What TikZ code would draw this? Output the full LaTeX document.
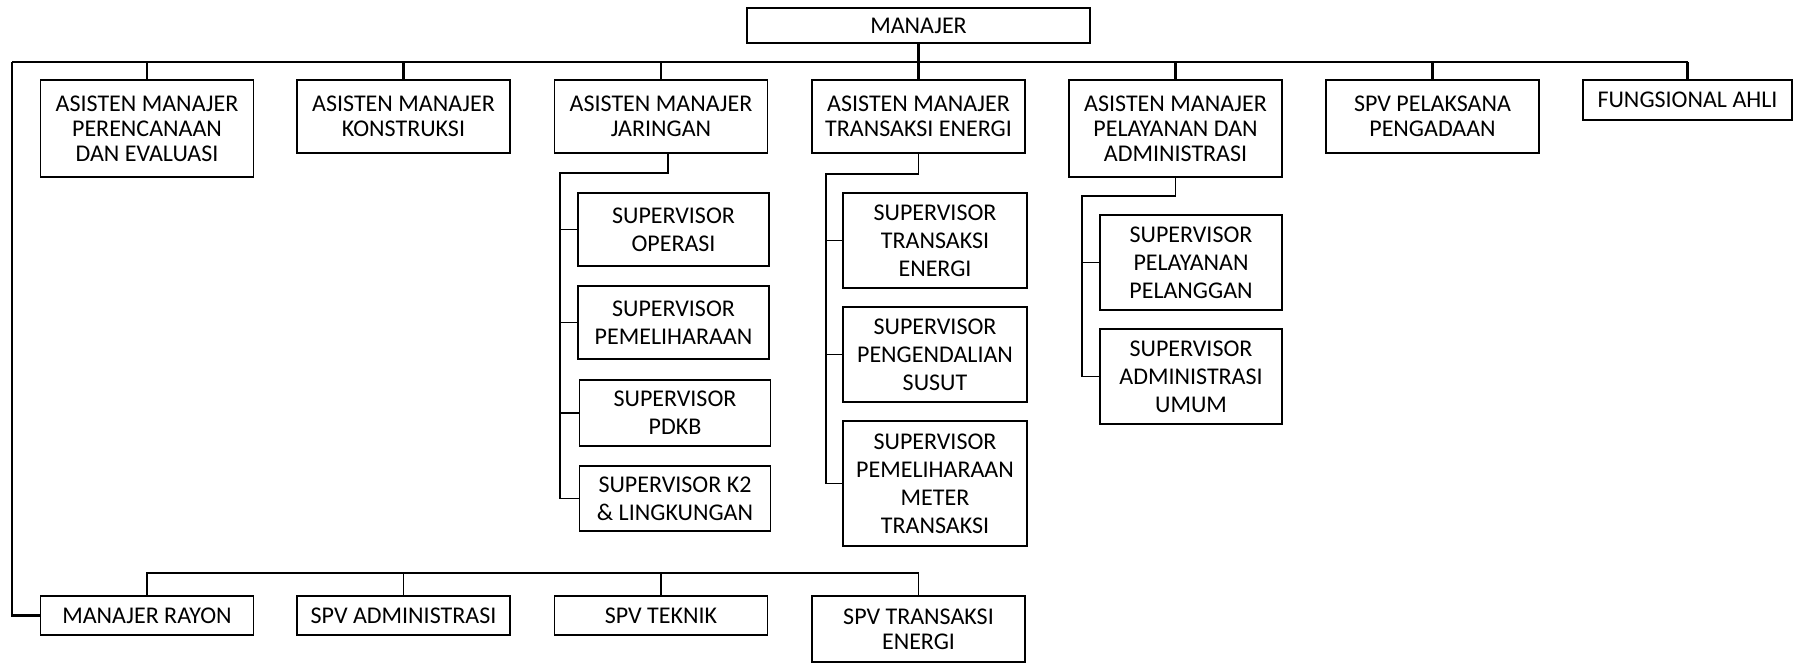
\documentclass[tikz,border=0pt]{standalone}
\usepackage{fontspec}
\setmainfont{Carlito}

\begin{document}
\begin{tikzpicture}[x=0.5pt, y=-0.5pt,
  topbox/.style={draw, line width=0.7pt, inner sep=0pt, align=center, minimum width=106.5pt, font=\fontsize{12}{12.5}\selectfont},
  subbox/.style={draw, line width=0.7pt, inner sep=0pt, align=center, font=\fontsize{12}{14}\selectfont},
  mainline/.style={line width=1.3pt},
  subline/.style={line width=0.7pt}]

\useasboundingbox (0,0) rectangle (1793,664);

\node[topbox, minimum width=171.5pt, minimum height=17.5pt] (man) at (918.5,25.5) {MANAJER};

\node[topbox, minimum height=48.5pt] (a1) at (147,128.5) {ASISTEN MANAJER\\PERENCANAAN\\DAN EVALUASI};
\node[topbox, minimum height=36.5pt] (a2) at (403.5,116.5) {ASISTEN MANAJER\\KONSTRUKSI};
\node[topbox, minimum height=36.5pt] (a3) at (661,116.5) {ASISTEN MANAJER\\JARINGAN};
\node[topbox, minimum height=36.5pt] (a4) at (918.5,116.5) {ASISTEN MANAJER\\TRANSAKSI ENERGI};
\node[topbox, minimum height=48.5pt] (a5) at (1175.5,128.5) {ASISTEN MANAJER\\PELAYANAN DAN\\ADMINISTRASI};
\node[topbox, minimum height=36.5pt] (a6) at (1432.5,116.5) {SPV PELAKSANA\\PENGADAAN};
\node[topbox, minimum width=104.5pt, minimum height=20pt] (a7) at (1687.5,100) {FUNGSIONAL AHLI};

\node[subbox, minimum width=95.5pt, minimum height=36.5pt] (j1) at (673.5,229.5) {SUPERVISOR\\OPERASI};
\node[subbox, minimum width=95.5pt, minimum height=36.5pt] (j2) at (673.5,322.5) {SUPERVISOR\\PEMELIHARAAN};
\node[subbox, minimum width=95.5pt, minimum height=33pt] (j3) at (675,413) {SUPERVISOR\\PDKB};
\node[subbox, minimum width=95.5pt, minimum height=32.5pt] (j4) at (675,498.5) {SUPERVISOR K2\\\& LINGKUNGAN};

\node[subbox, minimum width=92pt, minimum height=47.5pt] (t1) at (935,240.5) {SUPERVISOR\\TRANSAKSI\\ENERGI};
\node[subbox, minimum width=92pt, minimum height=47.5pt] (t2) at (935,354.5) {SUPERVISOR\\PENGENDALIAN\\SUSUT};
\node[subbox, minimum width=92pt, minimum height=62.5pt] (t3) at (935,483.5) {SUPERVISOR\\PEMELIHARAAN\\METER\\TRANSAKSI};

\node[subbox, minimum width=91pt, minimum height=47.5pt] (p1) at (1191,262.5) {SUPERVISOR\\PELAYANAN\\PELANGGAN};
\node[subbox, minimum width=91pt, minimum height=47.5pt] (p2) at (1191,376.5) {SUPERVISOR\\ADMINISTRASI\\UMUM};

\node[topbox, minimum height=19.5pt] (r1) at (147,615.5) {MANAJER RAYON};
\node[topbox, minimum height=19.5pt] (r2) at (403.5,615.5) {SPV ADMINISTRASI};
\node[topbox, minimum height=19.5pt] (r3) at (661,615.5) {SPV TEKNIK};
\node[topbox, minimum height=33pt] (r4) at (918.5,629) {SPV TRANSAKSI\\ENERGI};

\coordinate (bus) at (12,62);
\draw[mainline] (man.south) -- (man.south |- bus);
\draw[mainline] (bus) -- (a7.north |- bus);
\foreach \i in {1,2,4,5,6,7} {
    \draw[mainline] (a\i.north |- bus) -- (a\i.north);
}
\draw[mainline, xshift=3.5pt] (a3.north |- bus) -- (a3.north);
\draw[mainline] (bus) |- (r1.west);

\coordinate (jb) at (560,173);
\draw[subline] ([xshift=3.5pt]a3.south) |- (jb) |- (j4.west);
\foreach \i in {1,2,3} {
    \draw[subline] (jb |- j\i.west) -- (j\i.west);
}

\coordinate (tb) at (826,174);
\draw[subline] (a4.south) |- (tb) |- (t3.west);
\draw[subline, yshift=-4.25pt] (tb |- t1.west) -- (t1.west);
\draw[subline] (tb |- t2.west) -- (t2.west);

\coordinate (pb) at (1082,196);
\draw[subline] (a5.south) |- (pb) |- (p2.west);
\draw[subline, yshift=-4.5pt] (pb |- p1.west) -- (p1.west);

\coordinate (rb) at (0,573);
\draw[subline] (r1.north) |- (r4.north |- rb) -- (r4.north);
\draw[subline] (r2.north |- rb) -- (r2.north);
\draw[subline, xshift=3.5pt] (r3.north |- rb) -- (r3.north);

\end{tikzpicture}
\end{document}
